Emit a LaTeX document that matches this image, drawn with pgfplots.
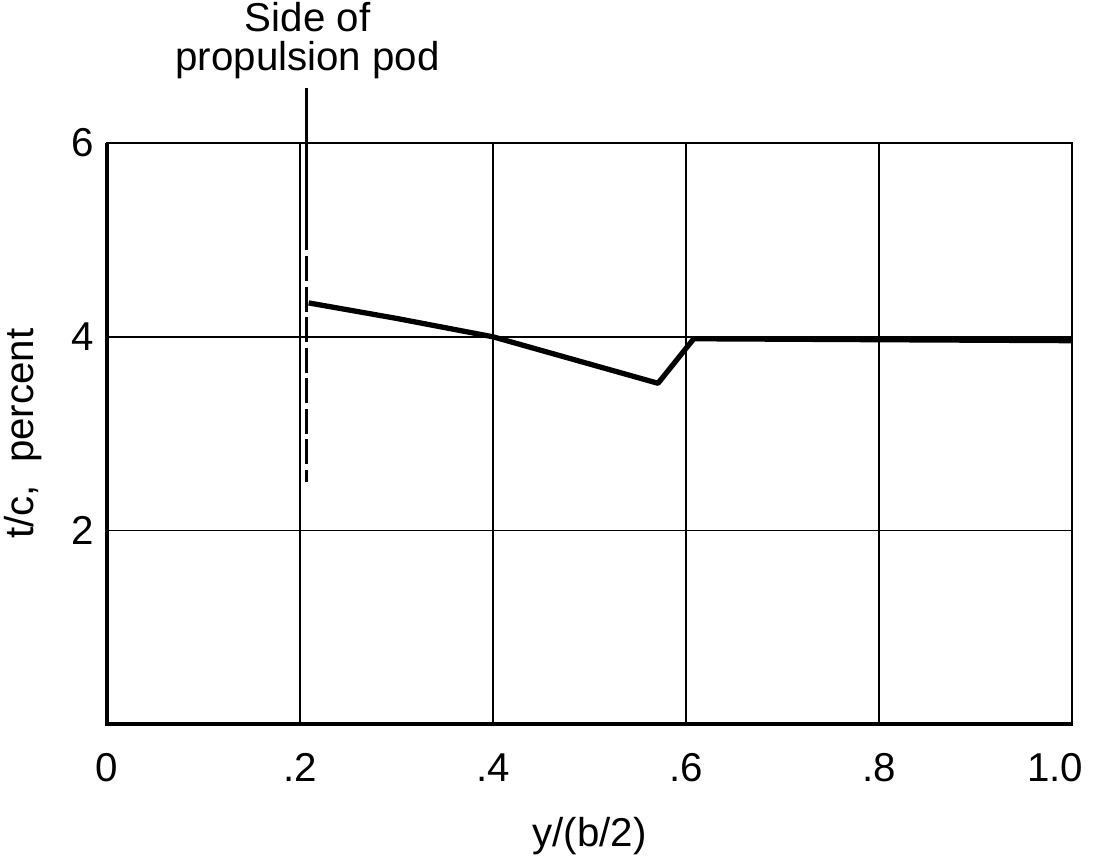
\documentclass[border=0pt]{standalone}
\usepackage{fontspec}
\setmainfont{Liberation Sans}
\usepackage{pgfplots}
\pgfplotsset{compat=1.18}
\begin{document}
\begin{tikzpicture}
\begin{axis}[
  scale only axis,
  width=347.4pt, height=209.2pt,
  xmin=0, xmax=1.0, ymin=0, ymax=6,
  xtick={0,0.2,0.4,0.6,0.8,1.0},
  xticklabels={0,.2,.4,.6,.8,\makebox[0pt][r]{1.0\hspace{-4pt}}},
  ytick={2,4,6},
  yticklabels={2,4,6},
  major tick length=0pt,
  grid=major,
  major grid style={black, line width=0.7pt},
  axis line style={black, line width=1.0pt},
  every tick label/.append style={font=\fontsize{14.5}{17}\selectfont},
  /pgf/number format/assume math mode=true,
  xticklabel style={yshift=-7pt},
  yticklabel style={xshift=-1pt},
  xlabel={y/(b/2)},
  ylabel={t/c,\ \ percent},
  label style={font=\fontsize{14.5}{17}\selectfont},
  xlabel style={yshift=-6pt},
  ylabel style={yshift=4pt},
  clip=false,
]
\addplot[black, line width=1.9pt, line join=round] coordinates {
  (0.209,4.35) (0.30,4.19) (0.40,4.00) (0.571,3.52) (0.608,3.98) (0.80,3.97) (1.0,3.96)
};
\addplot[black, line width=1.1pt] coordinates {(0.207,6.57) (0.207,5.15)};
\addplot[black, line width=1.1pt, dash pattern=on 9pt off 2pt] coordinates {(0.207,5.15) (0.207,2.5)};
\draw[black, line width=1.4pt] (axis cs:0,6) -- (axis cs:0,0) -- (axis cs:1,0);
\node[anchor=south, align=center, font=\fontsize{14.5}{13.8}\selectfont, inner sep=0pt]
  at (axis cs:0.208,6.66) {Side of\\propulsion pod};
\end{axis}
\pgfresetboundingbox
\useasboundingbox (-38.5pt,-47.9pt) rectangle (355.3pt,260.7pt);
\end{tikzpicture}
\end{document}
